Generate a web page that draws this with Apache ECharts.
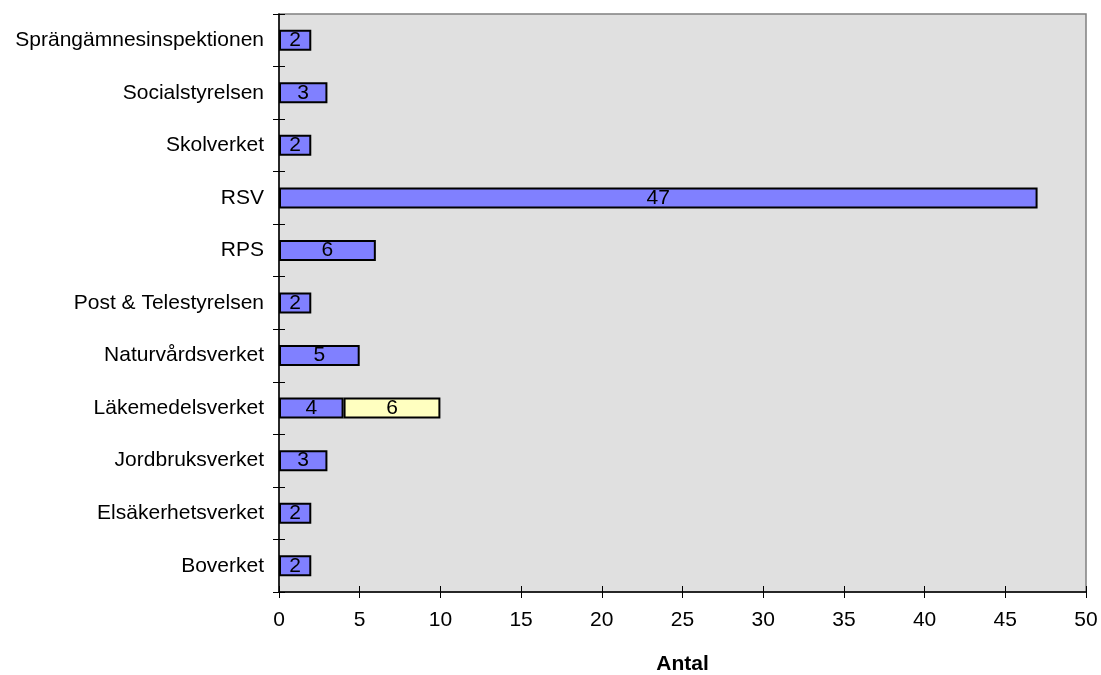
<!DOCTYPE html>
<html><head><meta charset="utf-8">
<script src="https://cdn.jsdelivr.net/npm/echarts@6/dist/echarts.min.js"></script>
<style>html,body{margin:0;padding:0;background:#fff}#c{width:1101px;height:675px}</style>
</head><body><div id="c"></div>
<script>
const categories = ["Boverket","Elsäkerhetsverket","Jordbruksverket","Läkemedelsverket","Naturvårdsverket","Post & Telestyrelsen","RPS","RSV","Skolverket","Socialstyrelsen","Sprängämnesinspektionen"];
const seriesA = [2,2,3,4,5,2,6,47,2,3,2];
const seriesB = [null,null,null,6,null,null,null,null,null,null,null];
const xTicks = [0,5,10,15,20,25,30,35,40,45,50];
const xTitle = "Antal";

const chart = echarts.init(document.getElementById('c'));
const font = 'Liberation Sans, Arial, sans-serif';
const fs = 21;
const lbl = {show:true, position:'inside', color:'#000', fontSize:fs, fontFamily:font};
chart.setOption({
  animation:false,
  grid:{left:279, right:15, top:14, bottom:83, outerBoundsMode:'none', containLabel:false, show:true, backgroundColor:'#e0e0e0', borderColor:'#808080', borderWidth:1.5},
  xAxis:[{
    type:'value', min:xTicks[0], max:xTicks[xTicks.length-1], interval:5, position:'bottom',
    name:xTitle, nameLocation:'middle', nameGap:62,
    nameTextStyle:{fontSize:fs, fontWeight:'bold', color:'#000', fontFamily:font},
    axisLine:{show:true, lineStyle:{color:'#000', width:1.5}},
    axisTick:{show:true, length:6, lineStyle:{color:'#000'}},
    axisLabel:{color:'#000', fontSize:fs, fontFamily:font, margin:18},
    splitLine:{show:false}
  },{
    type:'value', min:xTicks[0], max:xTicks[xTicks.length-1], interval:5, position:'bottom',
    axisLine:{show:false}, axisTick:{show:true, inside:true, length:6, lineStyle:{color:'#000'}},
    axisLabel:{show:false}, splitLine:{show:false}
  }],
  yAxis:[{
    type:'category', data:categories, position:'left',
    axisLine:{show:true, lineStyle:{color:'#000', width:1.5}},
    axisTick:{show:true, length:6, lineStyle:{color:'#000'}},
    axisLabel:{color:'#000', fontSize:fs, fontFamily:font, margin:15}
  },{
    type:'category', data:categories, position:'left',
    axisLine:{show:false}, axisTick:{show:true, inside:true, length:6, lineStyle:{color:'#000'}},
    axisLabel:{show:false}
  }],
  series:[{
    type:'bar', stack:'s', data:seriesA, barCategoryGap:'60%',
    itemStyle:{color:'#8080ff', borderColor:'#000', borderWidth:2}, label:lbl
  },{
    type:'bar', stack:'s', data:seriesB, barCategoryGap:'60%',
    itemStyle:{color:'#ffffc0', borderColor:'#000', borderWidth:2}, label:lbl
  }]
});
</script></body></html>
